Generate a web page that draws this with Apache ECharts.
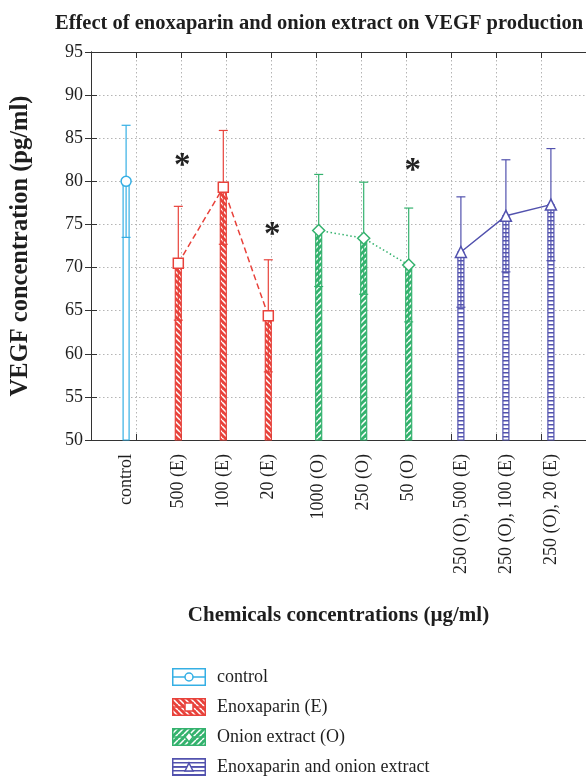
<!DOCTYPE html>
<html>
<head>
<meta charset="utf-8">
<script src="https://cdn.jsdelivr.net/npm/echarts@6/dist/echarts.min.js"></script>
<style>
html,body{margin:0;padding:0;background:#fff;}
#chart{width:586px;height:776px;}
</style>
</head>
<body>
<div id="chart"></div>
<script>
// ---------- data ----------
const categories = ['control', '500 (E)', '100 (E)', '20 (E)', '1000 (O)', '250 (O)', '50 (O)',
  '250 (O), 500 (E)', '250 (O), 100 (E)', '250 (O), 20 (E)'];
const groupOfCategory = [0, 1, 1, 1, 2, 2, 2, 3, 3, 3];
const groupNames = ['control', 'Enoxaparin (E)', 'Onion extract (O)', 'Enoxaparin and onion extract'];
const means = [80.0, 70.5, 79.3, 64.4, 74.3, 73.4, 70.3, 71.8, 76.0, 77.3];
const sds = [6.5, 6.6, 6.6, 6.5, 6.5, 6.5, 6.6, 6.4, 6.5, 6.5];
const sigCategories = ['500 (E)', '20 (E)', '50 (O)'];
const sigValues = [82.4, 74.4, 81.8];
const yMin = 50, yMax = 95, yStep = 5;

// ---------- styles ----------
const COLORS = ['#35AFE4', '#E8423B', '#34B26E', '#5252AE'];
const GROUP_OFFSET = [-0.22, -0.06, 0.06, 0.22];
const SYMBOLS = ['circle', 'rect', 'diamond', 'triangle'];
const SYMBOL_SIZES = [10, 10, 12, 11];
const LINE_TYPES = ['solid', [6, 3.5], [1.5, 2.5], 'solid'];
const SERIF = 'Liberation Serif';
const TEXT = '#1e1e1e';

function makeTile(g) {
  const c = document.createElement('canvas');
  const ctx = c.getContext('2d');
  const col = COLORS[g];
  if (g === 3) {
    c.width = 4; c.height = 4;
    ctx.fillStyle = '#fff'; ctx.fillRect(0, 0, 4, 4);
    ctx.fillStyle = col; ctx.fillRect(0, 0, 4, 1.5);
  } else if (g === 1 || g === 2) {
    c.width = 6; c.height = 6;
    ctx.fillStyle = col; ctx.fillRect(0, 0, 6, 6);
    ctx.strokeStyle = '#fff'; ctx.lineWidth = 1.5;
    ctx.beginPath();
    for (let k = -6; k <= 6; k += 6) {
      if (g === 1) { ctx.moveTo(k, 0); ctx.lineTo(k + 6, 6); }
      else { ctx.moveTo(k, 6); ctx.lineTo(k + 6, 0); }
    }
    ctx.stroke();
  } else {
    c.width = 4; c.height = 4;
    ctx.fillStyle = '#fff'; ctx.fillRect(0, 0, 4, 4);
  }
  return c;
}
const tiles = [0, 1, 2, 3].map(makeTile);

function drawMarker(ctx, g, cx, cy, s) {
  ctx.beginPath();
  const h = s / 2;
  if (g === 0) ctx.arc(cx, cy, h, 0, Math.PI * 2);
  else if (g === 1) ctx.rect(cx - h, cy - h, s, s);
  else if (g === 2) { ctx.moveTo(cx, cy - h - 1); ctx.lineTo(cx + h, cy); ctx.lineTo(cx, cy + h + 1); ctx.lineTo(cx - h, cy); ctx.closePath(); }
  else { ctx.moveTo(cx, cy - h); ctx.lineTo(cx + h, cy + h); ctx.lineTo(cx - h, cy + h); ctx.closePath(); }
  ctx.fillStyle = '#fff'; ctx.fill();
  ctx.strokeStyle = COLORS[g]; ctx.lineWidth = 1.5; ctx.stroke();
}

function makeLegendIcon(g) {
  const c = document.createElement('canvas');
  c.width = 34; c.height = 18;
  const ctx = c.getContext('2d');
  ctx.fillStyle = ctx.createPattern(tiles[g], 'repeat');
  ctx.fillRect(1, 1, 32, 16);
  ctx.strokeStyle = COLORS[g]; ctx.lineWidth = 1.5;
  ctx.strokeRect(0.75, 0.75, 32.5, 16.5);
  ctx.beginPath(); ctx.moveTo(0, 9); ctx.lineTo(34, 9); ctx.stroke();
  drawMarker(ctx, g, 17, 9, 8);
  return 'image://' + c.toDataURL();
}

function xPos(i) { return i + 1 + GROUP_OFFSET[groupOfCategory[i]]; }
const labelPositions = categories.map((c, i) => xPos(i));

function barRenderer(g) {
  const col = COLORS[g];
  const pattern = { image: tiles[g], repeat: 'repeat' };
  return function (params, api) {
    const x = api.value(0), m = api.value(1), s = api.value(2);
    const top = api.coord([x, m]);
    const base = api.coord([x, yMin]);
    const hi = api.coord([x, m + s]);
    const lo = api.coord([x, m - s]);
    const bw = 6, cw = 9;
    const ls = { stroke: col, lineWidth: 1.2 };
    return {
      type: 'group',
      children: [
        { type: 'rect', shape: { x: top[0] - bw / 2, y: top[1], width: bw, height: base[1] - top[1] },
          style: { fill: pattern, stroke: col, lineWidth: 1.2 } },
        { type: 'line', shape: { x1: hi[0], y1: hi[1], x2: lo[0], y2: lo[1] }, style: ls },
        { type: 'line', shape: { x1: hi[0] - cw / 2, y1: hi[1], x2: hi[0] + cw / 2, y2: hi[1] }, style: ls },
        { type: 'line', shape: { x1: lo[0] - cw / 2, y1: lo[1], x2: lo[0] + cw / 2, y2: lo[1] }, style: ls }
      ]
    };
  };
}

const series = [];
for (let g = 0; g < 4; g++) {
  const idx = categories.map((c, i) => i).filter(i => groupOfCategory[i] === g);
  series.push({
    type: 'custom',
    name: groupNames[g],
    renderItem: barRenderer(g),
    encode: { x: 0, y: 1 },
    data: idx.map(i => [xPos(i), means[i], sds[i]]),
    z: 2
  });
}
for (let g = 0; g < 4; g++) {
  const idx = categories.map((c, i) => i).filter(i => groupOfCategory[i] === g);
  series.push({
    type: 'line',
    name: groupNames[g],
    data: idx.map(i => [xPos(i), means[i]]),
    symbol: SYMBOLS[g],
    symbolSize: SYMBOL_SIZES[g],
    showAllSymbol: true,
    itemStyle: { color: '#fff', borderColor: COLORS[g], borderWidth: 1.5 },
    lineStyle: { color: COLORS[g], width: 1.5, type: LINE_TYPES[g] },
    emphasis: { disabled: true },
    z: 4
  });
}
series.push({
  type: 'custom',
  name: 'significance',
  renderItem: function (params, api) {
    const p = api.coord([api.value(0), api.value(1)]);
    return {
      type: 'text', x: p[0] + 4, y: p[1] + 6,
      style: { text: '*', fill: '#222', font: 'bold 33px "' + SERIF + '"', textAlign: 'center', textVerticalAlign: 'middle' }
    };
  },
  encode: { x: 0, y: 1 },
  data: sigCategories.map((c, k) => [xPos(categories.indexOf(c)), sigValues[k]]),
  z: 5
});

const axisLineStyle = { color: '#333', width: 1 };
const gridDot = { color: '#b5b5b5', width: 1, type: [1.5, 2.5] };

const option = {
  animation: false,
  backgroundColor: '#fff',
  title: {
    text: 'Effect of enoxaparin and onion extract on VEGF production',
    left: 50, top: 8,
    textStyle: { fontFamily: SERIF, fontWeight: 'bold', fontSize: 20.5, color: TEXT }
  },
  legend: {
    orient: 'vertical',
    left: 172, top: 668, height: 125, padding: 0,
    itemWidth: 34, itemHeight: 18, itemGap: 12,
    selectedMode: false,
    textStyle: { fontFamily: SERIF, fontSize: 18, color: TEXT, padding: [0, 0, 0, 6] },
    data: groupNames.map((n, g) => ({ name: n, icon: makeLegendIcon(g) }))
  },
  grid: { left: 90, top: 52, width: 497, height: 388, containLabel: false },
  xAxis: [{
    type: 'value', position: 'bottom', min: 0, max: 11, interval: 1,
    axisLine: { show: true, lineStyle: axisLineStyle },
    axisTick: { show: true, inside: true, length: 6, lineStyle: axisLineStyle },
    splitLine: { show: true, lineStyle: gridDot },
    axisLabel: {
      show: true, customValues: labelPositions, rotate: 90, margin: 14,
      fontFamily: SERIF, fontSize: 18, color: TEXT,
      formatter: v => categories[Math.round(v) - 1]
    },
    name: 'Chemicals concentrations (\u00b5g/ml)',
    nameLocation: 'middle', nameGap: 165,
    nameTextStyle: { fontFamily: SERIF, fontWeight: 'bold', fontSize: 21, color: TEXT }
  }, {
    type: 'value', position: 'top', min: 0, max: 11, interval: 1,
    axisLine: { show: true, lineStyle: axisLineStyle },
    axisTick: { show: true, inside: true, length: 6, lineStyle: axisLineStyle },
    splitLine: { show: false }, axisLabel: { show: false }
  }],
  yAxis: [{
    type: 'value', position: 'left', min: yMin, max: yMax, interval: yStep,
    axisLine: { show: true, lineStyle: axisLineStyle },
    axisTick: { show: true, inside: true, length: 6, lineStyle: axisLineStyle },
    splitLine: { show: true, lineStyle: gridDot },
    axisLabel: { fontFamily: SERIF, fontSize: 18, color: TEXT, margin: 8 },
    name: 'VEGF concentration (pg/ml)',
    nameLocation: 'middle', nameGap: 58,
    nameTextStyle: { fontFamily: SERIF, fontWeight: 'bold', fontSize: 24.5, color: TEXT }
  }, {
    type: 'value', position: 'right', min: yMin, max: yMax, interval: yStep,
    axisLine: { show: true, lineStyle: axisLineStyle },
    axisTick: { show: true, inside: true, length: 6, lineStyle: axisLineStyle },
    splitLine: { show: false }, axisLabel: { show: false }
  }],
  series: series
};

const chart = echarts.init(document.getElementById('chart'));
chart.setOption(option);
</script>
</body>
</html>
